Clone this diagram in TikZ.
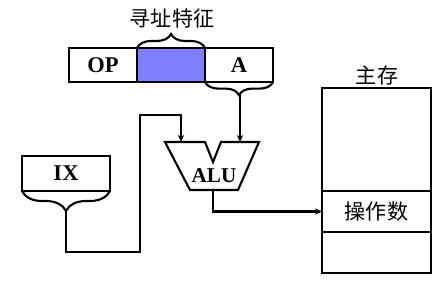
\documentclass[tikz,border=0pt]{standalone}
\usepackage{fontspec}
\setmainfont{Liberation Serif}
\newfontfamily\cjk{Noto Sans CJK SC}
\usetikzlibrary{positioning,arrows.meta,decorations.pathreplacing}

\begin{document}
\begin{tikzpicture}[
		x=0.025cm, y=-0.025cm,
		line width=1.5pt,
		field/.style={draw, rectangle, minimum width=1.7cm, minimum height=0.85cm, inner sep=0pt, outer sep=0pt, font=\fontsize{16}{18}\selectfont\bfseries},
		cell/.style={draw, rectangle, minimum width=2.725cm, inner sep=0pt, outer sep=0pt, font=\cjk\fontsize{15}{18}\selectfont},
		cjklabel/.style={font=\cjk\fontsize{15}{18}\selectfont},
		brc/.style={decorate, decoration={brace, amplitude=#1}},
		arrow/.style={-{Stealth[length=5pt, width=4.5pt]}},
	]
	\useasboundingbox (0,0) rectangle (442,281);

	% instruction word
	\node[field] (op) at (103,65) {OP};
	\node[field, fill=blue!50, right=0pt of op] (mode) {};
	\node[field, right=0pt of mode] (addr) {A};
	\node[cjklabel] (feature) at (172,18) {寻址特征};
	\draw[brc=0.35cm] (mode.north west) -- (mode.north east);
	\draw[brc=0.33cm] (addr.south east) -- (addr.south west);
	\coordinate (addrtip) at (240,95);

	% index register
	\node[field, minimum width=2.2cm, minimum height=0.875cm] (ix) at (66,173.5) {IX};
	\draw[brc=0.5cm] (ix.south east) -- (ix.south west);
	\coordinate (ixtip) at (66,211);

	% adder
	\draw (165,142) -- (205,142) -- (213,162) -- (221,142) -- (259,142) -- (238,190) -- (190,190) -- cycle;
	\node[font=\fontsize{15}{17}\selectfont\bfseries] (alu) at (214,176) {ALU};
	\coordinate (aluinl) at (181,142);
	\coordinate (aluinr) at (240,142);
	\coordinate (aluout) at (213,190);

	% main memory
	\node[cell, minimum height=2.575cm] (memtop) at (376.5,139.5) {};
	\node[cell, minimum height=1.025cm, below=0pt of memtop] (operand) {操作数};
	\node[cell, minimum height=1.025cm, below=0pt of operand] (membot) {};
	\node[cjklabel] (memlabel) at (377,75) {主存};

	\draw[arrow] (ixtip) -- (66,252) -| (140,115) -| (aluinl);
	\draw[arrow] (addrtip) -- (aluinr);
	\draw[arrow] (aluout) |- (operand.west);
\end{tikzpicture}
\end{document}
